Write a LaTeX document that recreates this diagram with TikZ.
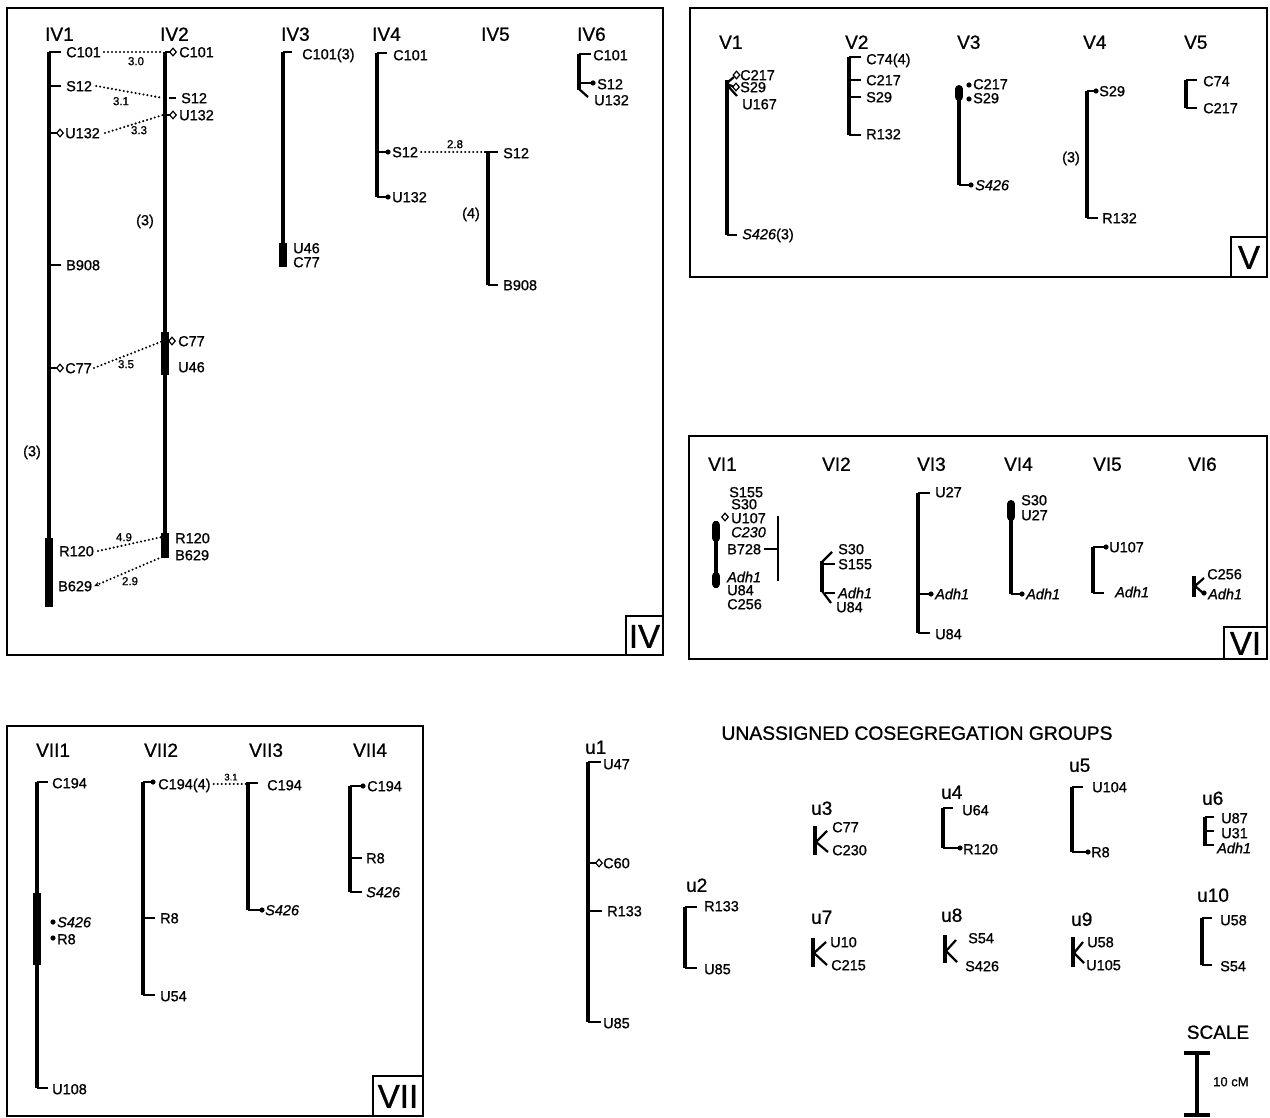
\documentclass[tikz,border=0pt]{standalone}
\usepackage{fontspec}
\setmainfont{Liberation Sans}[FakeBold=0.9]
\usetikzlibrary{shapes.geometric,arrows.meta}
\newcommand\lblf{\fontsize{14.5}{15}\selectfont}
\newcommand\hdrf{\fontsize{19}{20}\selectfont}
\newcommand\ttlf{\fontsize{19.3}{20}\selectfont}
\newcommand\numf{\fontsize{11.5}{12}\selectfont}
\newcommand\numsf{\fontsize{9.5}{10}\selectfont}
\newcommand\bigf{\fontsize{33}{34}\selectfont}
\newcommand\Lb[4]{\node[lbl] (#1) at (#2,#3) {#4};}
\newcommand\Dt[3]{\node[dt] (#1) at (#2,#3) {};}
\newcommand\Dm[3]{\node[dia] (#1) at (#2,#3) {};}
\begin{document}
\begin{tikzpicture}[x=1pt,y=-1pt,
 lbl/.style={font=\lblf, anchor=west, inner sep=0pt, text height=10.4pt, text depth=0pt},
 hdr/.style={font=\hdrf, anchor=west, inner sep=0pt, text height=13.6pt, text depth=0pt},
 big/.style={font=\bigf, inner sep=0pt, text height=23.6pt, text depth=0pt},
 num/.style={font=\numf, inner sep=0pt, text height=8.3pt, text depth=0pt},
 numsm/.style={font=\numsf, inner sep=0pt, text height=6.8pt, text depth=0pt},
 chrom/.style={line width=4.2pt},
 tk/.style={line width=1.8pt},
 bar/.style={line width=8pt},
 arm/.style={line width=2.2pt},
 thinln/.style={line width=1.4pt},
 dots/.style={line width=2.3pt, line cap=round, dash pattern=on 0pt off 4pt},
 dia/.style={diamond, draw, line width=1.2pt, inner sep=0pt, minimum width=7pt, minimum height=8pt, fill=white},
 dt/.style={circle, fill, inner sep=0pt, minimum size=5.2pt},
 frame/.style={line width=1.4pt},
]
\useasboundingbox (0,0) rectangle (1270,1118);
\fill[white] (0,0) rectangle (1270,1118);

% ================= PANEL IV =================
\draw[frame] (7,8) rectangle (663,655);
\draw[frame] (626,616) rectangle (663,655);
\node[big] (bIV) at (644.5,636) {IV};

% IV1
\node[hdr] (hIVa) at (45,34) {IV1};
\draw[chrom] (49,52) -- (49,545);
\draw[bar] (49,538) -- (49,607);
\draw[tk] (49,52) -- (61,52); \Lb{IVaC101}{66}{52}{C101}
\draw[tk] (49,86) -- (61,86); \Lb{IVaS12}{66}{86}{S12}
\draw[tk] (49,133) -- (57,133); \Dm{IVaU132d}{60}{133} \Lb{IVaU132}{65}{133}{U132}
\draw[tk] (49,265) -- (61,265); \Lb{IVaB908}{66}{265}{B908}
\draw[tk] (49,368) -- (57,368); \Dm{IVaC77d}{60}{368} \Lb{IVaC77}{65}{368}{C77}
\Lb{IVaR120}{59}{551}{R120}
\Lb{IVaB629}{58}{586}{B629}
\node[lbl,anchor=center] (IVa3) at (32,451) {(3)};

% IV2
\node[hdr] (hIVb) at (160,34) {IV2};
\draw[chrom] (165,52) -- (165,558);
\draw[bar] (165,332) -- (165,375);
\draw[bar] (165,533) -- (165,558);
\draw[tk] (165,52) -- (170,52); \Dm{IVbC101d}{173}{52} \Lb{IVbC101}{179}{52}{C101}
\draw[tk] (169,98) -- (176,98); \Lb{IVbS12}{181}{98}{S12}
\draw[tk] (165,115) -- (170,115); \Dm{IVbU132d}{173}{115} \Lb{IVbU132}{179}{115}{U132}
\node[lbl,anchor=center] (IVb3) at (145,220) {(3)};
\Dm{IVbC77d}{172}{341} \Lb{IVbC77}{178}{341}{C77}
\Lb{IVbU46}{178}{367}{U46}
\Lb{IVbR120}{175}{538}{R120}
\Lb{IVbB629}{175}{555}{B629}
\coordinate (IVbp1) at (163,52);
\coordinate (IVbp2) at (163,98);
\coordinate (IVbp3) at (163,115);
\coordinate (IVbp4) at (163,341);
\coordinate (IVbp5) at (162,537);
\coordinate (IVbp6) at (162,557);

% IV1-IV2 links
\draw[dots] ([xshift=3pt]IVaC101.east) -- (IVbp1);
\node[num] (n30) at (136,61) {3.0};
\draw[dots] ([xshift=4pt]IVaS12.east) -- (IVbp2);
\node[num] (n31) at (121,101) {3.1};
\draw[dots] ([xshift=5pt]IVaU132.east) -- (IVbp3);
\node[num] (n33) at (139,130) {3.3};
\draw[dots] ([xshift=2pt]IVaC77.east) -- (IVbp4);
\node[num] (n35) at (126,364) {3.5};
\draw[dots] ([xshift=4pt]IVaR120.east) -- (IVbp5);
\node[num] (n49) at (124,537) {4.9};
\draw[dots,-{Stealth[length=5pt,width=4.5pt]}] (IVbp6) -- ([xshift=2pt]IVaB629.east);
\node[num] (n29) at (130,581) {2.9};

% IV3
\node[hdr] (hIVc) at (281,34) {IV3};
\draw[chrom] (283,52) -- (283,250);
\draw[bar] (283,243) -- (283,267);
\draw[tk] (283,52) -- (292,52); \Lb{IVcC101}{302}{54}{C101(3)}
\Lb{IVcU46}{293}{248}{U46}
\Lb{IVcC77}{293}{262}{C77}

% IV4
\node[hdr] (hIVd) at (372,34) {IV4};
\draw[chrom] (377,53) -- (377,197);
\draw[tk] (377,53) -- (387,53); \Lb{IVdC101}{393}{55}{C101}
\draw[tk] (377,152) -- (388,152); \Dt{IVdS12d}{388}{152} \Lb{IVdS12}{392}{152}{S12}
\draw[tk] (377,197) -- (388,197); \Dt{IVdU132d}{388}{197} \Lb{IVdU132}{392}{197}{U132}

% IV5
\node[hdr] (hIVe) at (481,34) {IV5};
\draw[chrom] (488,152) -- (488,285);
\draw[tk] (484,152) -- (498,152); \Lb{IVeS12}{503}{153}{S12}
\draw[tk] (488,285) -- (498,285); \Lb{IVeB908}{503}{285}{B908}
\node[lbl,anchor=center] (IVe4) at (471,213) {(4)};
\coordinate (IVep) at (485,152);
\draw[dots] ([xshift=3pt]IVdS12.east) -- (IVep);
\node[num] (n28) at (455,144) {2.8};

% IV6
\node[hdr] (hIVf) at (577,34) {IV6};
\draw[chrom] (579,54) -- (579,90);
\draw[tk] (579,54) -- (591,54); \Lb{IVfC101}{593}{55}{C101}
\draw[tk] (579,83) -- (592,83); \Dt{IVfS12d}{593}{83} \Lb{IVfS12}{597}{84}{S12}
\draw[arm] (579,89) -- (588,97); \Lb{IVfU132}{594}{100}{U132}

% ================= PANEL V =================
\draw[frame] (690,8) rectangle (1267,277);
\draw[frame] (1231,237) rectangle (1267,277);
\node[big] (bV) at (1249,257) {V};

% V1
\node[hdr] (hVa) at (719,42) {V1};
\draw[chrom] (727,80) -- (727,235);
\draw[arm] (727,83) -- (734,77); \Dm{VaC217d}{736.5}{75} \Lb{VaC217}{740}{75}{C217}
\draw[arm] (727,84) -- (733,86.5); \Dm{VaS29d}{736}{87} \Lb{VaS29}{740}{87}{S29}
\draw[arm] (727,85) -- (737,96); \Lb{VaU167}{742}{104}{U167}
\draw[tk] (727,235) -- (737,235); \Lb{VaS426}{742}{234}{\textit{S426}(3)}

% V2
\node[hdr] (hVb) at (845,42) {V2};
\draw[chrom] (849,57) -- (849,135);
\draw[tk] (849,57) -- (861,57); \Lb{VbC74}{866}{59}{C74(4)}
\draw[tk] (849,80) -- (861,80); \Lb{VbC217}{866}{80}{C217}
\draw[tk] (849,97) -- (861,97); \Lb{VbS29}{866}{97}{S29}
\draw[tk] (849,135) -- (861,135); \Lb{VbR132}{866}{134}{R132}

% V3
\node[hdr] (hVc) at (957,42) {V3};
\draw[chrom] (959,92) -- (959,185);
\draw[bar,line cap=round] (959,89) -- (959,97);
\Dt{VcC217d}{969}{85} \Lb{VcC217}{973}{84}{C217}
\Dt{VcS29d}{969}{99} \Lb{VcS29}{973}{98}{S29}
\draw[tk] (959,185) -- (970,185); \Dt{VcS426d}{971}{185} \Lb{VcS426}{975}{185}{\textit{S426}}

% V4
\node[hdr] (hVd) at (1083,42) {V4};
\draw[chrom] (1087,91) -- (1087,218);
\draw[tk] (1087,91) -- (1095,91); \Dt{VdS29d}{1096}{91} \Lb{VdS29}{1099}{91}{S29}
\draw[tk] (1087,218) -- (1098,218); \Lb{VdR132}{1102}{218}{R132}
\node[lbl,anchor=center] (Vd3) at (1071,157) {(3)};

% V5
\node[hdr] (hVe) at (1184,42) {V5};
\draw[chrom] (1186,80) -- (1186,108);
\draw[tk] (1186,80) -- (1197,80); \Lb{VeC74}{1203}{81}{C74}
\draw[tk] (1186,108) -- (1197,108); \Lb{VeC217}{1203}{108}{C217}

% ================= PANEL VI =================
\draw[frame] (689,436) rectangle (1267,659);
\draw[frame] (1224,627) rectangle (1267,659);
\node[big] (bVI) at (1245.5,643) {VI};

% VI1
\node[hdr] (hVIa) at (708,464) {VI1};
\draw[chrom] (716,521) -- (716,588);
\draw[bar,line cap=round] (716,525) -- (716,538);
\draw[bar,line cap=round] (716,576) -- (716,584);
\Lb{VIaS155}{729}{492}{S155}
\Lb{VIaS30}{731}{504}{S30}
\Dm{VIaU107d}{725}{517} \Lb{VIaU107}{731}{518}{U107}
\Lb{VIaC230}{731}{532}{\textit{C230}}
\Lb{VIaB728}{727}{549}{B728}
\Lb{VIaAdh}{727}{577}{\textit{Adh1}}
\Lb{VIaU84}{727}{590}{U84}
\Lb{VIaC256}{727}{604}{C256}
\draw[thinln] (778,516) -- (778,581);
\draw[tk] ([xshift=3pt]VIaB728.east) -- (778,549);

% VI2
\node[hdr] (hVIb) at (822,464) {VI2};
\draw[chrom] (822,561) -- (822,592);
\draw[arm] (822,562) -- (832,552);
\draw[arm] (822,591) -- (831,603);
\draw[tk] (822,564) -- (835,564);
\draw[tk] (825,593) -- (835,593);
\Lb{VIbS30}{838}{549}{S30}
\Lb{VIbS155}{838}{564}{S155}
\Lb{VIbAdh}{838}{593}{\textit{Adh1}}
\Lb{VIbU84}{836}{607}{U84}

% VI3
\node[hdr] (hVIc) at (917,464) {VI3};
\draw[chrom] (918,493) -- (918,633);
\draw[tk] (918,493) -- (930,493); \Lb{VIcU27}{935}{492}{U27}
\draw[tk] (918,594) -- (930,594); \Dt{VIcAdhd}{931}{594} \Lb{VIcAdh}{935}{594}{\textit{Adh1}}
\draw[tk] (918,633) -- (930,633); \Lb{VIcU84}{935}{634}{U84}

% VI4
\node[hdr] (hVId) at (1004,464) {VI4};
\draw[chrom] (1011,505) -- (1011,594);
\draw[bar,line cap=round] (1011,504) -- (1011,517);
\draw[tk] (1011,594) -- (1021,594); \Dt{VIdAdhd}{1022}{594} \Lb{VIdAdh}{1026}{594}{\textit{Adh1}}
\Lb{VIdS30}{1021}{500}{S30}
\Lb{VIdU27}{1021}{515}{U27}

% VI5
\node[hdr] (hVIe) at (1093,464) {VI5};
\draw[chrom] (1093,547) -- (1093,593);
\draw[tk] (1093,547) -- (1105,547); \Dt{VIeU107d}{1106}{547} \Lb{VIeU107}{1109}{547}{U107}
\draw[tk] (1093,593) -- (1104,593); \Lb{VIeAdh}{1115}{592}{\textit{Adh1}}

% VI6
\node[hdr] (hVIf) at (1188,464) {VI6};
\draw[chrom] (1194,576) -- (1194,597);
\draw[arm] (1195,586) -- (1204,578);
\draw[arm] (1195,586) -- (1203,593);
\Dt{VIfAdhd}{1204}{593}
\Lb{VIfC256}{1207}{574}{C256}
\Lb{VIfAdh}{1208}{594}{\textit{Adh1}}

% ================= PANEL VII =================
\draw[frame] (7,726) rectangle (423,1116);
\draw[frame] (373,1076) rectangle (423,1116);
\node[big] (bVII) at (398,1096) {VII};

% VII1
\node[hdr] (hVIIa) at (36,750) {VII1};
\draw[chrom] (37,782) -- (37,1088);
\draw[bar] (37,893) -- (37,965);
\draw[tk] (37,782) -- (48,782); \Lb{VIIaC194}{52}{783}{C194}
\Dt{VIIaS426d}{53}{922} \Lb{VIIaS426}{57}{922}{\textit{S426}}
\Dt{VIIaR8d}{53}{938} \Lb{VIIaR8}{57}{939}{R8}
\draw[tk] (37,1088) -- (48,1088); \Lb{VIIaU108}{52}{1089}{U108}

% VII2
\node[hdr] (hVIIb) at (144,750) {VII2};
\draw[chrom] (143,782) -- (143,995);
\draw[tk] (143,782) -- (153,782); \Dt{VIIbC194d}{153}{782} \Lb{VIIbC194}{158}{784}{C194(4)}
\draw[tk] (143,918) -- (155,918); \Lb{VIIbR8}{160}{918}{R8}
\draw[tk] (143,995) -- (155,995); \Lb{VIIbU54}{160}{996}{U54}

% VII3
\node[hdr] (hVIIc) at (249,750) {VII3};
\draw[chrom] (248,783) -- (248,910);
\draw[tk] (246,783) -- (258,783); \Lb{VIIcC194}{267}{785}{C194}
\draw[tk] (248,910) -- (260,910); \Dt{VIIcS426d}{262}{910} \Lb{VIIcS426}{265}{910}{\textit{S426}}
\coordinate (VIIcp) at (246,784);
\draw[dots] ([xshift=3pt]VIIbC194.east) -- (VIIcp);
\node[numsm] (n31b) at (231,777) {3.1};

% VII4
\node[hdr] (hVIId) at (353,750) {VII4};
\draw[chrom] (350,786) -- (350,892);
\draw[tk] (350,786) -- (362,786); \Dt{VIIdC194d}{363}{786} \Lb{VIIdC194}{367}{786}{C194}
\draw[tk] (350,858) -- (362,858); \Lb{VIIdR8}{366}{858}{R8}
\draw[tk] (350,892) -- (362,892); \Lb{VIIdS426}{366}{892}{\textit{S426}}

% ================= UNASSIGNED =================
\node[hdr,font=\ttlf,anchor=center] (title) at (917,733) {UNASSIGNED COSEGREGATION GROUPS};

% u1
\node[hdr] (hua) at (585,747) {u1};
\draw[chrom] (588,762) -- (588,1022);
\draw[tk] (588,762) -- (601,762); \Lb{uaU47}{603}{764}{U47}
\draw[tk] (588,863) -- (596,863); \Dm{uaC60d}{599}{863} \Lb{uaC60}{603}{863}{C60}
\draw[tk] (588,911) -- (602,911); \Lb{uaR133}{607}{911}{R133}
\draw[tk] (588,1022) -- (601,1022); \Lb{uaU85}{603}{1023}{U85}

% u2
\node[hdr] (hub) at (686,885) {u2};
\draw[chrom] (685,907) -- (685,968);
\draw[tk] (685,907) -- (697,907); \Lb{ubR133}{704}{906}{R133}
\draw[tk] (685,968) -- (697,968); \Lb{ubU85}{704}{969}{U85}

% u3
\node[hdr] (huc) at (811,808) {u3};
\draw[chrom] (815,826) -- (815,855);
\draw[arm] (816,842) -- (827,831);
\draw[arm] (816,842) -- (828,852);
\Lb{ucC77}{832}{827}{C77}
\Lb{ucC230}{832}{850}{C230}

% u7
\node[hdr] (hug) at (811,917) {u7};
\draw[chrom] (813,938) -- (813,967);
\draw[arm] (814,953) -- (826,942);
\draw[arm] (814,953) -- (827,965);
\Lb{ugU10}{830}{942}{U10}
\Lb{ugC215}{831}{965}{C215}

% u4
\node[hdr] (hud) at (941,792) {u4};
\draw[chrom] (943,808) -- (943,848);
\draw[tk] (943,808) -- (953,808); \Lb{udU64}{962}{810}{U64}
\draw[tk] (943,848) -- (958,848); \Dt{udR120d}{960}{848} \Lb{udR120}{963}{849}{R120}

% u5
\node[hdr] (hue) at (1069,765) {u5};
\draw[chrom] (1072,787) -- (1072,852);
\draw[tk] (1072,787) -- (1083,787); \Lb{ueU104}{1092}{787}{U104}
\draw[tk] (1072,852) -- (1086,852); \Dt{ueR8d}{1088}{852} \Lb{ueR8}{1091}{852}{R8}

% u6
\node[hdr] (huf) at (1202,798) {u6};
\draw[chrom] (1205,817) -- (1205,846);
\draw[tk] (1205,817) -- (1214,817); \Lb{ufU87}{1221}{818}{U87}
\draw[tk] (1205,831) -- (1214,831); \Lb{ufU31}{1221}{833}{U31}
\draw[tk] (1205,845) -- (1214,845); \Lb{ufAdh}{1217}{848}{\textit{Adh1}}

% u8
\node[hdr] (huh) at (941,915) {u8};
\draw[chrom] (945,935) -- (945,963);
\draw[arm] (946,951) -- (956,940);
\draw[arm] (946,951) -- (957,962);
\Lb{uhS54}{968}{938}{S54}
\Lb{uhS426}{965}{966}{S426}

% u9
\node[hdr] (hui) at (1071,919) {u9};
\draw[chrom] (1073,937) -- (1073,967);
\draw[arm] (1074,953) -- (1083,942);
\draw[arm] (1074,953) -- (1084,963);
\Lb{uiU58}{1087}{942}{U58}
\Lb{uiU105}{1086}{965}{U105}

% u10
\node[hdr] (huj) at (1197,895) {u10};
\draw[chrom] (1202,918) -- (1202,965);
\draw[tk] (1202,918) -- (1212,918); \Lb{ujU58}{1220}{920}{U58}
\draw[tk] (1202,965) -- (1212,965); \Lb{ujS54}{1220}{966}{S54}

% SCALE
\node[hdr,anchor=center] (scl) at (1218,1032) {SCALE};
\draw[line width=4.5pt] (1197,1053) -- (1197,1115);
\draw[line width=3.5pt] (1184,1053) -- (1210,1053);
\draw[line width=3.5pt] (1184,1115) -- (1210,1115);
\node[lbl,font=\fontsize{13}{13}\selectfont] (sclt) at (1213,1081) {10 cM};
\end{tikzpicture}
\end{document}
